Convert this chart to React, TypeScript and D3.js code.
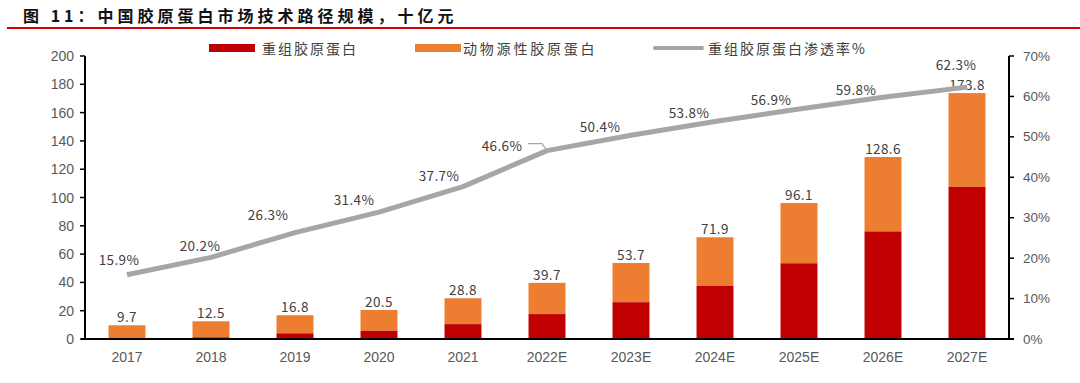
import React from "react";
import * as d3 from "d3";

const years = ["2017", "2018", "2019", "2020", "2021", "2022E", "2023E", "2024E", "2025E", "2026E", "2027E"];
const recombinant = [0.3, 1.2, 4.0, 5.8, 10.5, 17.6, 26.0, 37.5, 53.5, 76.0, 107.5];
const totals = [9.7, 12.5, 16.8, 20.5, 28.8, 39.7, 53.7, 71.9, 96.1, 128.6, 173.8];
const penetration = [15.9, 20.2, 26.3, 31.4, 37.7, 46.6, 50.4, 53.8, 56.9, 59.8, 62.3];
const leftTicks = [0, 20, 40, 60, 80, 100, 120, 140, 160, 180, 200];
const rightTicks = [0, 10, 20, 30, 40, 50, 60, 70];
const seriesNames = ["重组胶原蛋白", "动物源性胶原蛋白", "重组胶原蛋白渗透率%"];
const title = "图 11：中国胶原蛋白市场技术路径规模，十亿元";

const RED = "#c00000";
const ORANGE = "#ed7d31";
const GREY = "#a6a6a6";
const CJK = "'Noto Sans CJK SC', 'Noto Sans', sans-serif";
const LAT = "'Liberation Sans', Arial, sans-serif";

// label offsets (dx, dy of text center relative to line point)
const penLabelOffsets: [number, number][] = [
  [-8, -16], [-11, -12], [-27, -19], [-25, -13], [-24, -12], [-45, -6],
  [-31, -9], [-26, -9], [-28, -10], [-27, -8], [-11, -23],
];

export default function App() {
  const left = 85, right = 1009, top = 56, bottom = 339;
  const x = d3.scaleBand<string>().domain(years).range([left, right]).paddingInner(0.56).paddingOuter(0.28);
  const yL = d3.scaleLinear().domain([0, 200]).range([bottom, top]);
  const yR = d3.scaleLinear().domain([0, 70]).range([bottom, top]);
  const bw = x.bandwidth();
  const cx = (i: number) => (x(years[i]) as number) + bw / 2;

  const line = d3
    .line<number>()
    .x((_, i) => cx(i))
    .y((d) => yR(d));

  const axisColor = "#000";
  const tickColor = "#595959";
  const labelColor = "#404040";

  return (
    <svg width={1080} height={383} style={{ position: "absolute", left: 0, top: 0, background: "#fff" }}>
      {/* title */}
      <text x={23} y={15} fontFamily={CJK} fontWeight="bold" fontSize={16} letterSpacing={4} fill="#111" dominantBaseline="central">
        {title}
      </text>
      <line x1={7} x2={1080} y1={28} y2={28} stroke="#d40000" strokeWidth={2} />

      {/* legend */}
      <rect x={209} y={44} width={46} height={8} fill={RED} />
      <text x={262} y={48} fontFamily={CJK} fontSize={14} letterSpacing={2} fill={labelColor} dominantBaseline="central">{seriesNames[0]}</text>
      <rect x={415} y={44} width={46} height={8} fill={ORANGE} />
      <text x={463} y={48} fontFamily={CJK} fontSize={14} letterSpacing={2.8} fill={labelColor} dominantBaseline="central">{seriesNames[1]}</text>
      <line x1={655} x2={702} y1={48} y2={48} stroke={GREY} strokeWidth={4} strokeLinecap="round" />
      <text x={708} y={48} fontFamily={CJK} fontSize={14} letterSpacing={2} fill={labelColor} dominantBaseline="central">{seriesNames[2]}</text>

      {/* bars */}
      {years.map((yr, i) => {
        const xb = x(yr) as number;
        return (
          <g key={yr}>
            <rect x={xb} y={yL(totals[i])} width={bw} height={yL(recombinant[i]) - yL(totals[i])} fill={ORANGE} />
            <rect x={xb} y={yL(recombinant[i])} width={bw} height={bottom - yL(recombinant[i])} fill={RED} />
          </g>
        );
      })}

      {/* axes */}
      <line x1={left} x2={left} y1={top} y2={bottom} stroke={axisColor} strokeWidth={2} />
      <line x1={right} x2={right} y1={top} y2={bottom} stroke={axisColor} strokeWidth={2} />
      <line x1={left - 4} x2={right + 5} y1={bottom} y2={bottom} stroke={axisColor} strokeWidth={2} />
      {leftTicks.map((t) => (
        <g key={"l" + t}>
          <line x1={left - 5} x2={left} y1={yL(t)} y2={yL(t)} stroke={axisColor} strokeWidth={1.5} />
          <text x={74} y={yL(t)} textAnchor="end" dominantBaseline="central" fontFamily={LAT} fontSize={14} fill={tickColor}>{t}</text>
        </g>
      ))}
      {rightTicks.map((t) => (
        <g key={"r" + t}>
          <line x1={right} x2={right + 5} y1={yR(t)} y2={yR(t)} stroke={axisColor} strokeWidth={1.5} />
          <text x={1023} y={yR(t)} textAnchor="start" dominantBaseline="central" fontFamily={LAT} fontSize={13.5} fill={tickColor}>{t + "%"}</text>
        </g>
      ))}
      {years.map((yr, i) => (
        <text key={"x" + yr} x={cx(i)} y={357} textAnchor="middle" dominantBaseline="central" fontFamily={LAT} fontSize={14} fill={tickColor}>{yr}</text>
      ))}

      {/* total labels */}
      {years.map((yr, i) => (
        <text key={"t" + yr} x={cx(i)} y={yL(totals[i]) - 9} textAnchor="middle" dominantBaseline="central" fontFamily={CJK} fontSize={13.5} letterSpacing={0.4} fill={labelColor}>
          {totals[i].toFixed(1)}
        </text>
      ))}

      {/* penetration line */}
      <path d={line(penetration) || ""} fill="none" stroke={GREY} strokeWidth={5} strokeLinejoin="round" />
      {penetration.map((p, i) => {
        const [dx, dy] = penLabelOffsets[i];
        return (
          <text key={"p" + i} x={cx(i) + dx} y={yR(p) + dy} textAnchor="middle" dominantBaseline="central" fontFamily={CJK} fontSize={13.5} letterSpacing={0.4} fill={labelColor}>
            {p.toFixed(1) + "%"}
          </text>
        );
      })}
      {/* leader for 2022E */}
      <path
        d={`M${cx(5) - 19},${yR(penetration[5]) - 7} H${cx(5) - 5} L${cx(5)},${yR(penetration[5])}`}
        fill="none"
        stroke={GREY}
        strokeWidth={1.2}
      />
    </svg>
  );
}
